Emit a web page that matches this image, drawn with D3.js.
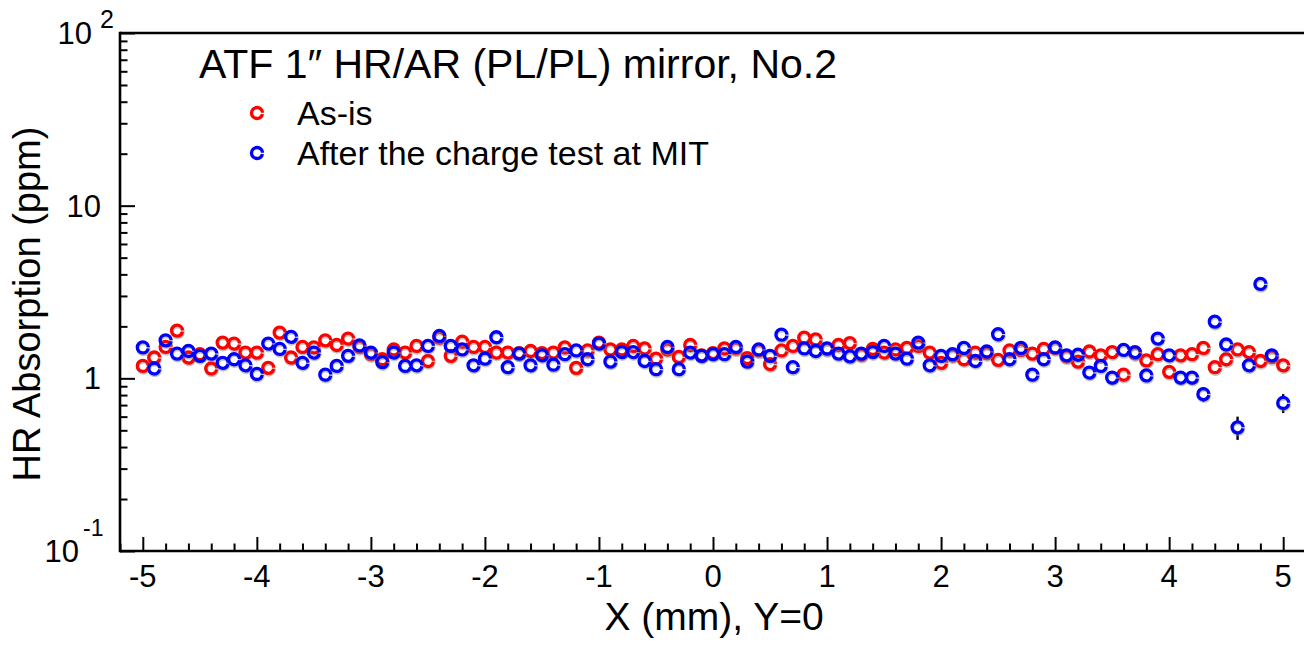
<!DOCTYPE html>
<html><head><meta charset="utf-8">
<script src="https://cdn.jsdelivr.net/npm/d3@7"></script>
<style>
html,body{margin:0;padding:0;background:#fff;}
svg{display:block;font-family:"Liberation Sans",Arial,Helvetica,sans-serif;}
</style></head>
<body>
<svg id="c" width="1304" height="646"></svg>
<script>
// ---- data ----
const xPositions = d3.range(101).map(i => +(-5 + i * 0.1).toFixed(1)); // scan positions, 0.1 mm step
const asIs = [1.18,1.32,1.52,1.89,1.32,1.38,1.14,1.61,1.59,1.41,
  1.41,1.15,1.84,1.32,1.52,1.51,1.66,1.56,1.70,1.52,
  1.38,1.29,1.47,1.41,1.54,1.26,1.72,1.35,1.63,1.52,
  1.52,1.41,1.41,1.40,1.44,1.40,1.41,1.51,1.15,1.45,
  1.61,1.47,1.47,1.54,1.49,1.30,1.47,1.33,1.56,1.36,
  1.40,1.49,1.49,1.31,1.45,1.21,1.45,1.54,1.72,1.68,
  1.48,1.56,1.60,1.37,1.48,1.41,1.47,1.50,1.54,1.41,
  1.23,1.36,1.29,1.41,1.40,1.28,1.45,1.46,1.39,1.48,
  1.50,1.34,1.25,1.43,1.36,1.42,1.05,1.40,1.27,1.38,
  1.09,1.36,1.38,1.50,1.16,1.29,1.47,1.42,1.26,1.33,1.19];
const afterMIT = [1.51,1.14,1.66,1.39,1.44,1.35,1.39,1.23,1.29,1.19,
  1.06,1.59,1.48,1.74,1.23,1.41,1.05,1.18,1.35,1.55,
  1.41,1.24,1.41,1.18,1.19,1.54,1.76,1.54,1.47,1.19,
  1.30,1.73,1.16,1.39,1.19,1.36,1.20,1.38,1.45,1.29,
  1.59,1.25,1.42,1.42,1.26,1.13,1.52,1.13,1.41,1.35,
  1.38,1.38,1.52,1.25,1.47,1.35,1.79,1.16,1.49,1.44,
  1.49,1.39,1.34,1.39,1.42,1.54,1.39,1.30,1.61,1.19,
  1.35,1.38,1.50,1.26,1.43,1.80,1.29,1.50,1.05,1.29,
  1.51,1.36,1.37,1.08,1.18,1.01,1.46,1.42,1.04,1.70,
  1.36,1.01,1.01,0.81,2.13,1.57,0.52,1.19,3.52,1.36,0.72];
const asIsErr = [0.09,0.09,0.09,0.09,0.09,0.09,0.09,0.09,0.09,0.09,
  0.09,0.09,0.09,0.09,0.09,0.09,0.09,0.09,0.09,0.09,
  0.09,0.09,0.09,0.09,0.09,0.09,0.09,0.09,0.09,0.09,
  0.09,0.09,0.09,0.09,0.09,0.09,0.09,0.09,0.09,0.09,
  0.09,0.09,0.09,0.09,0.09,0.09,0.09,0.09,0.09,0.09,
  0.09,0.09,0.09,0.09,0.09,0.09,0.09,0.09,0.09,0.09,
  0.09,0.09,0.09,0.09,0.09,0.09,0.09,0.09,0.09,0.09,
  0.09,0.09,0.09,0.09,0.09,0.09,0.09,0.09,0.09,0.09,
  0.09,0.09,0.09,0.09,0.09,0.09,0.09,0.09,0.09,0.09,
  0.09,0.09,0.09,0.09,0.09,0.09,0.09,0.09,0.09,0.09,0.09];
const afterErr = [0.09,0.09,0.09,0.09,0.09,0.09,0.09,0.09,0.09,0.09,
  0.09,0.09,0.09,0.09,0.09,0.09,0.09,0.09,0.09,0.09,
  0.09,0.09,0.09,0.09,0.09,0.09,0.09,0.09,0.09,0.09,
  0.09,0.09,0.09,0.09,0.09,0.09,0.09,0.09,0.09,0.09,
  0.09,0.09,0.09,0.09,0.09,0.09,0.09,0.09,0.09,0.09,
  0.09,0.09,0.09,0.09,0.09,0.09,0.09,0.09,0.09,0.09,
  0.09,0.09,0.09,0.09,0.09,0.09,0.09,0.09,0.09,0.09,
  0.09,0.09,0.09,0.09,0.09,0.09,0.09,0.09,0.09,0.09,
  0.09,0.09,0.09,0.09,0.09,0.09,0.09,0.09,0.09,0.09,
  0.09,0.09,0.09,0.08,0.12,0.09,0.08,0.09,0.25,0.09,0.09];
const xMajorTicks = [-5,-4,-3,-2,-1,0,1,2,3,4,5];
const xTickLabels = ["-5","-4","-3","-2","-1","0","1","2","3","4","5"];
const yMajorTicks = [0.1,1,10,100];
const yTickBase = ["10","1","10","10"];
const yTickExp = ["-1","","","2"];
const seriesNames = ["As-is","After the charge test at MIT"];
const seriesColors = ["#ff0000","#0000ff"];
const titleText = "ATF 1\u2033 HR/AR (PL/PL) mirror, No.2";
const xTitle = "X (mm), Y=0";
const yTitle = "HR Absorption (ppm)";

// ---- layout ----
const svg = d3.select("#c");
const L = 120, T = 33, B = 551, R = 1306;
const x = d3.scaleLinear().domain([-5.2, 5.2]).range([L, R]);
const y = d3.scaleLog().domain([0.1, 100]).range([B, T]);

// minor ticks
const xMinor = d3.range(-52, 53, 2).map(v => v / 10).filter(v => Math.abs(v - Math.round(v)) > 1e-6);
const yMinor = [];
[0.1, 1, 10].forEach(d => { for (let k = 2; k <= 9; k++) yMinor.push(d * k); });

const axisG = svg.append("g");
function ticks(axis, tr, size) {
  axisG.append("g").attr("transform", tr)
    .call(axis.tickSize(size).tickFormat(""))
    .call(g => g.select(".domain").remove())
    .call(g => g.selectAll("line").attr("stroke", "#000").attr("stroke-width", 2));
}
ticks(d3.axisBottom(x).tickValues(xMajorTicks), `translate(0,${B})`, -14);
ticks(d3.axisBottom(x).tickValues(xMinor), `translate(0,${B})`, -7.5);
ticks(d3.axisLeft(y).tickValues(yMajorTicks), `translate(${L},0)`, -15);
ticks(d3.axisLeft(y).tickValues(yMinor), `translate(${L},0)`, -7.5);

// frame lines (left, bottom, top)
axisG.append("line").attr("x1", L).attr("x2", L).attr("y1", T - 1.2).attr("y2", B + 1.2).attr("stroke", "#000").attr("stroke-width", 2.6);
axisG.append("line").attr("x1", L).attr("x2", 1304).attr("y1", B).attr("y2", B).attr("stroke", "#000").attr("stroke-width", 2.6);
axisG.append("line").attr("x1", L).attr("x2", 1304).attr("y1", T).attr("y2", T).attr("stroke", "#000").attr("stroke-width", 2.6);

// x tick labels
svg.append("g").selectAll("text").data(xMajorTicks).join("text")
  .attr("x", d => x(d)).attr("y", B + 36)
  .attr("text-anchor", "middle").attr("font-size", 31).attr("fill", "#000")
  .text((d, i) => xTickLabels[i]);

// y tick labels
const yl = svg.append("g").attr("fill", "#000");
yMajorTicks.forEach((v, i) => {
  const yy = y(v);
  const e = yTickExp[i];
  if (e === "") {
    yl.append("text").attr("x", 101).attr("y", yy + 11).attr("text-anchor", "end").attr("font-size", 31).text(yTickBase[i]);
  } else if (e.length === 1) {
    yl.append("text").attr("x", 92).attr("y", yy + 11).attr("text-anchor", "end").attr("font-size", 31).text(yTickBase[i]);
    yl.append("text").attr("x", 100).attr("y", yy - 5).attr("font-size", 25).text(e);
  } else {
    yl.append("text").attr("x", 79).attr("y", yy + 11).attr("text-anchor", "end").attr("font-size", 31).text(yTickBase[i]);
    yl.append("text").attr("x", 83).attr("y", yy - 15).attr("font-size", 23).text(e);
  }
});

// titles
svg.append("text").attr("x", 714).attr("y", 630).attr("text-anchor", "middle").attr("font-size", 39).text(xTitle);
svg.append("text").attr("transform", `translate(40,${304}) rotate(-90)`).attr("text-anchor", "middle").attr("font-size", 38).text(yTitle);
svg.append("text").attr("x", 199).attr("y", 78).attr("font-size", 41).text(titleText);

// markers
const r = 5.5, sw = 3.3, circ = 2 * Math.PI * r, gap = 2.2;
function ring(sel, color, shadow) {
  if (shadow) {
    sel.append("circle").attr("r", r).attr("cx", 0.6).attr("cy", 1.7)
      .attr("fill", "none").attr("stroke", "#8a8a8a").attr("stroke-opacity", 0.5).attr("stroke-width", sw);
  }
  sel.append("circle").attr("r", r).attr("fill", "none").attr("stroke", color).attr("stroke-width", sw)
    .attr("stroke-dasharray", `${circ - gap} ${gap}`).attr("stroke-dashoffset", circ - gap / 2);
}

const series = [
  { vals: asIs, errs: asIsErr, color: seriesColors[0] },
  { vals: afterMIT, errs: afterErr, color: seriesColors[1] }
];
series.forEach(s => {
  const pts = xPositions.map((xv, i) => ({ x: xv, v: s.vals[i], e: s.errs[i] }));
  const g = svg.append("g");
  // error bars are drawn outside the marker only (as ROOT does)
  g.selectAll("line.eu").data(pts.filter(d => y(d.v) - y(d.v + d.e) > r)).join("line").attr("class", "eu")
    .attr("x1", d => x(d.x)).attr("x2", d => x(d.x))
    .attr("y1", d => y(d.v + d.e)).attr("y2", d => y(d.v) - r)
    .attr("stroke", "#000").attr("stroke-width", 2.4);
  g.selectAll("line.ed").data(pts.filter(d => y(d.v - d.e) - y(d.v) > r)).join("line").attr("class", "ed")
    .attr("x1", d => x(d.x)).attr("x2", d => x(d.x))
    .attr("y1", d => y(d.v) + r).attr("y2", d => y(d.v - d.e))
    .attr("stroke", "#000").attr("stroke-width", 2.4);
  g.selectAll("g.pt").data(pts).join("g").attr("class", "pt")
    .attr("transform", d => `translate(${x(d.x)},${y(d.v)})`)
    .each(function () { ring(d3.select(this), s.color, true); });
});

// legend
const lg = svg.append("g");
seriesNames.forEach((name, i) => {
  const gy = 113 + i * 40;
  const m = lg.append("g").attr("transform", `translate(257,${gy})`);
  ring(m, seriesColors[i], false);
  lg.append("text").attr("x", 297).attr("y", gy + 12).attr("font-size", 34).text(name);
});
</script>
</body></html>
